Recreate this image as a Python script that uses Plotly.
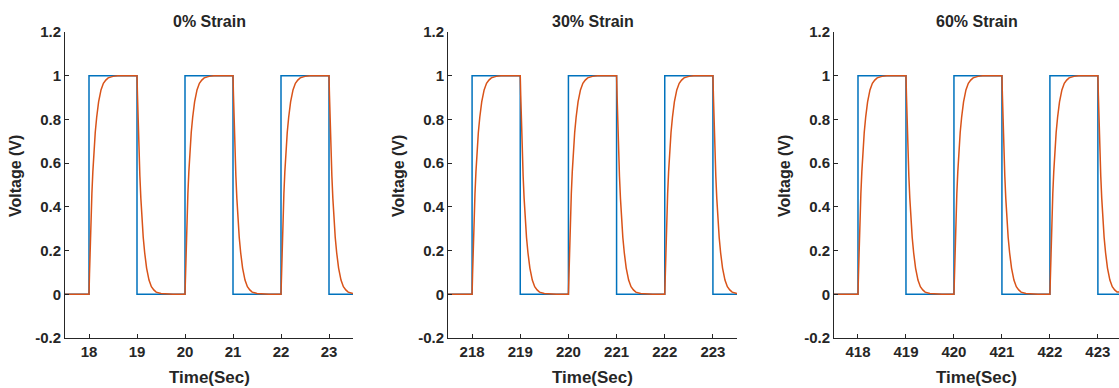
import plotly.graph_objects as go

# Panel titles and time windows (seconds)
titles = ["0% Strain", "30% Strain", "60% Strain"]
x_starts = [17.5, 217.5, 417.5]
x_ends = [23.5, 223.5, 423.44]
x_ticks = [[18, 19, 20, 21, 22, 23],
           [218, 219, 220, 221, 222, 223],
           [418, 419, 420, 421, 422, 423]]

# Switching edges of the applied square wave and the level after each edge
edge_times = [[18, 19, 20, 21, 22, 23],
              [218, 219, 220, 221, 222, 223],
              [418, 419, 420, 421, 422, 423]]
edge_levels = [1, 0, 1, 0, 1, 0]
initial_level = 0

# Measured response after an edge: time since edge (s) and voltage (V)
resp_offsets = [0, 0.01, 0.02, 0.04, 0.06, 0.08, 0.10, 0.13, 0.16, 0.20,
                0.25, 0.30, 0.35, 0.40, 0.50, 0.60, 0.75, 1.00]
rise_values = [0, 0.09, 0.18, 0.34, 0.46, 0.56, 0.64, 0.74, 0.81, 0.88,
               0.935, 0.965, 0.98, 0.99, 0.997, 1.0, 1.0, 1.0]
fall_values = [1, 0.91, 0.82, 0.66, 0.54, 0.44, 0.36, 0.26, 0.19, 0.12,
               0.065, 0.035, 0.02, 0.01, 0.004, 0.002, 0, 0]

y_ticks = [-0.2, 0, 0.2, 0.4, 0.6, 0.8, 1, 1.2]
y_ticktext = ["-0.2", "0", "0.2", "0.4", "0.6", "0.8", "1", "1.2"]

BLUE = "#0072BD"
ORANGE = "#D95319"
AXIS = "#262626"
FONT = "Liberation Sans"

W, H = 1119, 388
x_px = [(65, 353), (448, 737), (834, 1119)]
y_px = (32, 338)  # top, bottom in pixels

fig = go.Figure()

for i in range(3):
    xs, xe = x_starts[i], x_ends[i]
    edges = edge_times[i]

    # square-wave input
    bx = [xs] + edges + [xe]
    by = [initial_level] + edge_levels + [edge_levels[-1]]

    # response curve
    ox, oy = [xs], [initial_level]
    for k, t0 in enumerate(edges):
        t_next = edges[k + 1] if k + 1 < len(edges) else xe
        vals = rise_values if edge_levels[k] == 1 else fall_values
        for off, v in zip(resp_offsets, vals):
            t = t0 + off
            if t <= t_next + 1e-9:
                ox.append(t)
                oy.append(v)
        if ox[-1] < t_next:
            ox.append(t_next)
            oy.append(oy[-1])

    xa = "x" if i == 0 else f"x{i+1}"
    ya = "y" if i == 0 else f"y{i+1}"
    fig.add_trace(go.Scatter(x=bx, y=by, mode="lines", line_shape="hv",
                             line=dict(color=BLUE, width=1.5),
                             xaxis=xa, yaxis=ya, showlegend=False))
    fig.add_trace(go.Scatter(x=ox, y=oy, mode="lines",
                             line=dict(color=ORANGE, width=1.5),
                             xaxis=xa, yaxis=ya, showlegend=False))

    x0, x1 = x_px[i]
    dom_x = [x0 / W, x1 / W]
    dom_y = [1 - y_px[1] / H, 1 - y_px[0] / H]
    sfx = "" if i == 0 else str(i + 1)
    fig.layout["xaxis" + sfx] = dict(
        domain=dom_x, range=[xs, xe], anchor=ya, automargin=False,
        tickvals=x_ticks[i], ticktext=[str(v) for v in x_ticks[i]],
        ticks="inside", ticklen=4, tickcolor=AXIS, tickwidth=1,
        showline=True, linecolor=AXIS, linewidth=1, showgrid=False,
        zeroline=False, tickfont=dict(family=FONT, size=15, color=AXIS,
                                      weight="bold"))
    fig.layout["yaxis" + sfx] = dict(
        domain=dom_y, range=[-0.2, 1.2], anchor=xa, automargin=False,
        tickvals=y_ticks, ticktext=y_ticktext,
        ticks="inside", ticklen=4, tickcolor=AXIS, tickwidth=1,
        showline=True, linecolor=AXIS, linewidth=1, showgrid=False,
        zeroline=False, tickfont=dict(family=FONT, size=15, color=AXIS,
                                      weight="bold"))

    cx = (x0 + x1) / 2 / W
    fig.add_annotation(text=titles[i], x=cx, y=1 - 21 / H, xref="paper",
                       yref="paper", showarrow=False, xanchor="center",
                       yanchor="middle",
                       font=dict(family=FONT, size=16, color=AXIS, weight="bold"))
    fig.add_annotation(text="Time(Sec)", x=cx, y=1 - 377 / H, xref="paper",
                       yref="paper", showarrow=False, xanchor="center",
                       yanchor="middle",
                       font=dict(family=FONT, size=17, color=AXIS, weight="bold"))
    fig.add_annotation(text="Voltage (V)", x=(x0 - 49) / W,
                       y=1 - 176 / H, xref="paper", yref="paper",
                       showarrow=False, textangle=-90, xanchor="center",
                       yanchor="middle",
                       font=dict(family=FONT, size=16, color=AXIS, weight="bold"))

fig.update_layout(width=W, height=H, margin=dict(l=0, r=0, t=0, b=0),
                  paper_bgcolor="white", plot_bgcolor="white")

fig.write_html("out.html")
